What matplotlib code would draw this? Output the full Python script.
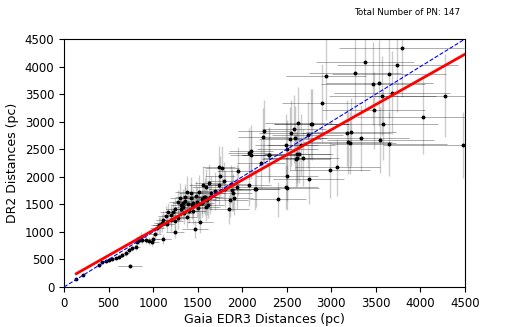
import numpy as np
import matplotlib
matplotlib.use("Agg")
import matplotlib.pyplot as plt

# Gaia EDR3 distance, DR2 distance, and their errors (pc)
gaia_dist = [138, 213, 393, 430, 468, 505, 542, 580, 617, 655,
             692, 730, 767, 804, 823, 842, 879, 917, 741, 860,
             955, 991, 1002, 1115, 1047, 1066, 1103, 1020, 1077, 1152,
             1246,
             1115, 1171, 1227, 1197, 1283, 1313, 1310, 1358, 1377, 1392,
             1422, 1451, 1489, 1545, 1470, 1526, 1594, 1601, 1620, 1631,
             1639, 1646, 1695, 1736, 1770, 1751, 1810, 1852, 1860, 1874,
             1945, 1952, 2076, 2080, 1510, 1571, 1594, 1735, 1796, 1900,
             1908, 2099, 2099, 2155, 2214, 2297, 2402, 2241, 2237,
             1150, 1250, 1340, 1360, 1400, 1420, 1480, 1500, 1550, 1280,
             1240, 1350, 1440, 1380, 1300, 1520, 1560, 1450, 1200, 1330,
             2495, 2506, 2536, 2544, 2578, 2611, 2619, 2630, 2735, 2746,
             2499, 2499, 2686, 2656, 2780, 2899, 2937, 2985, 3068, 3172,
             3184, 3206, 3221, 3266, 3337, 3378, 3468, 3476, 3539, 3550,
             3572, 3580, 3651, 3651, 3681, 3741, 3790, 4033, 4276, 4478,
             2593, 2641, 2604, 2772, 2305, 2492, 2144, 1882, 1582]
dr2_dist = [145, 218, 393, 448, 472, 490, 508, 532, 550, 585,
            611, 672, 702, 731, 811, 853, 853, 853, 381, 900,
            840, 822, 865, 865, 1065, 1125, 1156, 960, 1125, 1143,
            1004,
            1222, 1361, 1367, 1216, 1548, 1494, 1410, 1628, 1276, 1501,
            1615, 1530, 1543, 1519, 1053, 1185, 1446, 1579, 1488, 1893,
            1628, 1700, 1742, 1851, 2166, 2015, 1779, 1410, 1579, 1869,
            1821, 2108, 1845, 2426, 1500, 1628, 1809, 2172, 1924, 1712,
            1621, 2468, 2396, 1779, 2245, 2401, 1591, 2837, 2722,
            1280, 1420, 1450, 1560, 1380, 1700, 1650, 1440, 1600, 1250,
            1200, 1350, 1480, 1720, 1610, 1720, 1850, 1380, 1300, 1530,
            2583, 2510, 2692, 2790, 2862, 2335, 2414, 2971, 2759, 1960,
            2015, 1791, 2347, 2577, 2952, 3339, 3835, 2123, 2172, 2795,
            2626, 2608, 2808, 3889, 2704, 4083, 3690, 3207, 3702, 2668,
            3472, 2952, 3871, 2590, 3526, 4029, 4343, 3091, 3472, 2577,
            2710, 2408, 2317, 2958, 2396, 1820, 1785, 1760, 1639]
gaia_err = [12, 15, 20, 22, 25, 25, 28, 30, 30, 35,
            35, 40, 40, 45, 45, 50, 50, 55, 130, 55,
            60, 70, 70, 80, 80, 85, 90, 70, 80, 90,
            100,
            80, 90, 90, 100, 100, 110, 100, 110, 120, 120,
            130, 130, 140, 140, 150, 150, 160, 140, 170, 160,
            150, 160, 170, 180, 190, 170, 190, 220, 200, 210,
            220, 230, 250, 240, 140, 150, 160, 180, 190, 210,
            210, 250, 240, 270, 270, 290, 310, 290, 290,
            90, 100, 110, 120, 120, 130, 140, 140, 150, 100,
            100, 110, 130, 130, 110, 150, 160, 140, 90, 110,
            350, 340, 350, 360, 360, 380, 370, 380, 400, 400,
            350, 360, 400, 380, 420, 450, 450, 450, 480, 500,
            500, 520, 500, 520, 540, 550, 580, 580, 600, 600,
            600, 620, 640, 650, 650, 680, 700, 750, 800, 900,
            360, 380, 380, 420, 320, 360, 270, 220, 160]
dr2_err = [15, 20, 25, 30, 30, 30, 35, 35, 40, 40,
           45, 50, 50, 55, 60, 80, 70, 80, 30, 90,
           70, 80, 90, 90, 120, 150, 160, 100, 140, 150,
           120,
           150, 170, 190, 210, 210, 220, 190, 250, 200, 240,
           270, 250, 280, 240, 170, 210, 250, 270, 240, 330,
           300, 310, 340, 360, 400, 370, 330, 260, 300, 350,
           400, 430, 380, 460, 260, 280, 330, 390, 350, 330,
           310, 480, 440, 320, 440, 480, 320, 560, 520,
           190, 200, 220, 260, 220, 300, 280, 260, 280, 190,
           170, 210, 240, 290, 270, 310, 350, 240, 200, 240,
           550, 520, 580, 600, 620, 500, 520, 650, 600, 450,
           450, 400, 520, 560, 650, 700, 800, 500, 520, 600,
           580, 560, 620, 800, 600, 850, 750, 700, 780, 600,
           720, 650, 800, 580, 750, 850, 900, 680, 750, 600,
           580, 520, 500, 640, 500, 400, 380, 380, 340]

# linear fit
fit_slope = 0.913
fit_intercept = 116
n_pn = 147

fig = plt.figure(figsize=(5.18, 3.27), dpi=100)
ax = fig.add_axes([0.1236, 0.1223, 0.7741, 0.7584])

ax.errorbar(gaia_dist, dr2_dist, yerr=dr2_err, fmt='none', ecolor='gray',
            elinewidth=1.0, alpha=0.4, zorder=1)
ax.errorbar(gaia_dist, dr2_dist, xerr=gaia_err, fmt='none', ecolor='k',
            elinewidth=0.5, alpha=0.45, zorder=2)
ax.plot(gaia_dist, dr2_dist, 'o', color='k', markersize=1.8, zorder=3)

ax.plot([0, 4500], [0, 4500], '--', color='blue', linewidth=0.8, zorder=4)
fit_x = np.array([min(gaia_dist), 4500])
ax.plot(fit_x, fit_slope * fit_x + fit_intercept, '-', color='red',
        linewidth=2, zorder=5)

ax.set_xlim(0, 4500)
ax.set_ylim(0, 4500)
ax.set_xticks(np.arange(0, 4501, 500))
ax.set_yticks(np.arange(0, 4501, 500))
ax.tick_params(labelsize=8.5)
ax.set_xlabel("Gaia EDR3 Distances (pc)", fontsize=9, labelpad=2)
ax.set_ylabel("DR2 Distances (pc)", fontsize=9)

fig.text(0.684, 0.955, f"Total Number of PN: {n_pn}", fontsize=6.3)

plt.savefig("out.png", dpi=100)
plt.close()
